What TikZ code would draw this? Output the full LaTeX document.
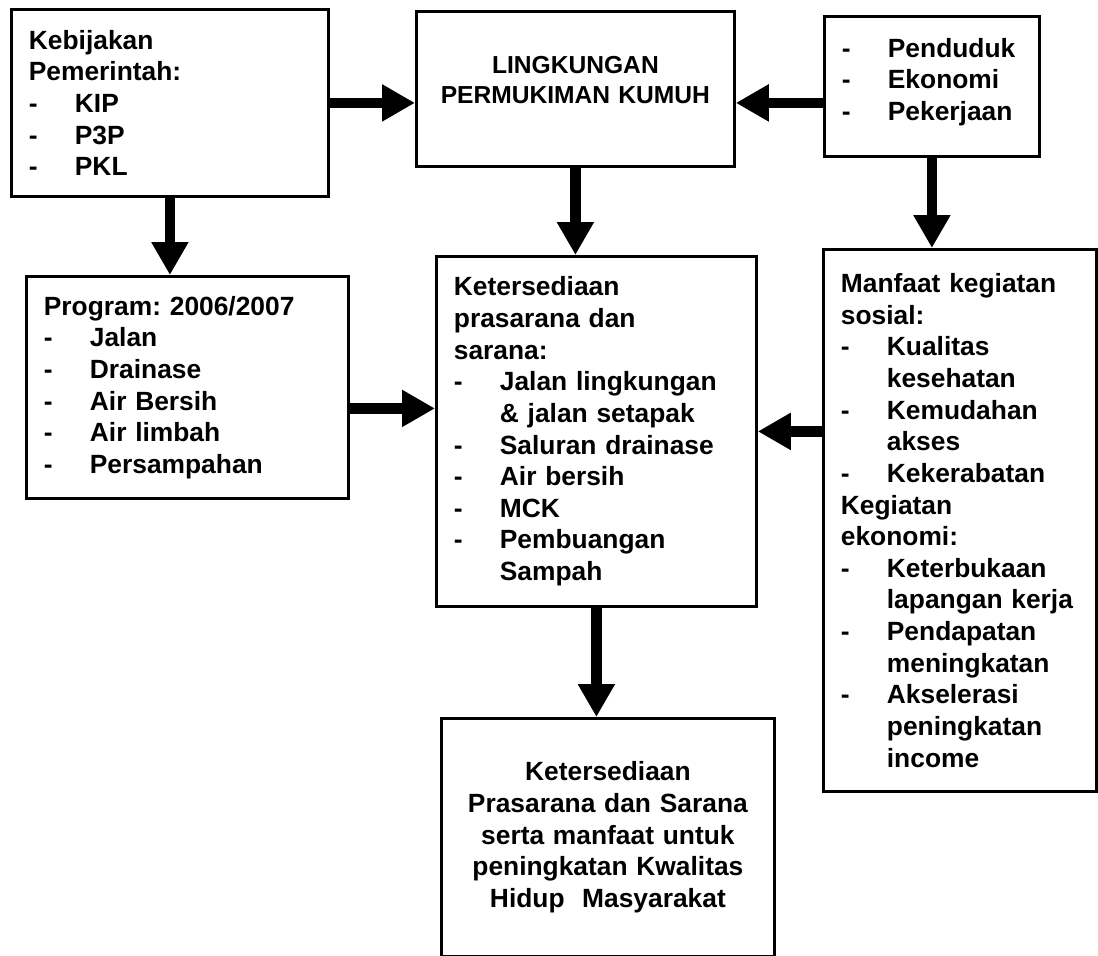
\documentclass[tikz,border=0pt]{standalone}
\usepackage{fontspec}
\setmainfont{Liberation Sans}
\usetikzlibrary{arrows.meta}

% Dash of a list item, and the indent of its next line.
\newcommand{\itm}{\makebox[0.92cm][l]{-}}
\newcommand{\cnt}{\hspace*{0.92cm}}

\begin{document}
\frenchspacing
\begin{tikzpicture}[
        box/.style = {%
            draw, line width = 1.6pt, anchor = north west,
            inner ysep = 0pt, inner xsep = 0.35cm, align = left,
            font = \fontsize{15}{18}\selectfont\bfseries
        },
        arr/.style = {%
            line width = 6pt,
            -{Triangle[length = 0.66cm, width = 0.7cm]}
        }
    ]

        \useasboundingbox (0, 0) rectangle (21.96, -19.1);

        % Top row.
        \node[box, text width = 5.64cm, minimum height = 3.74cm] (kebijakan) at (0.2, -0.16)
            {Kebijakan\\ Pemerintah:\\ \itm KIP\\ \itm P3P\\ \itm PKL};
        \node[box, align = center, text width = 5.66cm, minimum height = 3.1cm,
              font = \fontsize{14}{17}\selectfont\bfseries] (lingkungan) at (8.3, -0.2)
            {LINGKUNGAN\\ PERMUKIMAN KUMUH\\[-0.25cm] \mbox{}};
        \node[box, text width = 3.6cm, minimum height = 2.8cm] (penduduk) at (16.46, -0.3)
            {\itm Penduduk\\ \itm Ekonomi\\ \itm Pekerjaan\\[-0.35cm] \mbox{}};

        % Middle row.
        \node[box, text width = 5.74cm, minimum height = 4.44cm] (program) at (0.5, -5.5)
            {Program: 2006/2007\\ \itm Jalan\\ \itm Drainase\\ \itm Air Bersih\\
             \itm Air limbah\\ \itm Persampahan};
        \node[box, text width = 5.7cm, minimum height = 7.0cm] (ketersediaan) at (8.7, -5.1)
            {Ketersediaan\\ prasarana dan\\ sarana:\\ \itm Jalan lingkungan\\
             \cnt \& jalan setapak\\ \itm Saluran drainase\\ \itm Air bersih\\
             \itm MCK\\ \itm Pembuangan\\ \cnt Sampah};
        \node[box, text width = 4.76cm, minimum height = 10.84cm] (manfaat) at (16.44, -4.96)
            {Manfaat kegiatan\\ sosial:\\ \itm Kualitas\\ \cnt kesehatan\\
             \itm Kemudahan\\ \cnt akses\\ \itm Kekerabatan\\ Kegiatan\\ ekonomi:\\
             \itm Keterbukaan\\ \cnt lapangan kerja\\ \itm Pendapatan\\
             \cnt meningkatan\\ \itm Akselerasi\\ \cnt peningkatan\\ \cnt income};

        % Bottom.
        \node[box, align = center, text width = 5.96cm, minimum height = 4.76cm] (hasil) at (8.8, -14.34)
            {Ketersediaan\\ Prasarana dan Sarana\\ serta manfaat untuk\\
             peningkatan Kwalitas\\ Hidup\ \ Masyarakat};

        % Arrows.
        \coordinate (p4) at ([yshift = -0.42cm]program.east);
        \draw[arr] (kebijakan.east) -- (kebijakan.east -| lingkungan.west);
        \draw[arr] (penduduk.west |- kebijakan.east) -- (lingkungan.east |- kebijakan.east);
        \draw[arr] (kebijakan.south) -- (kebijakan.south |- program.north);
        \draw[arr] (lingkungan.south) -- (lingkungan.south |- ketersediaan.north);
        \draw[arr] (penduduk.south) -- (penduduk.south |- manfaat.north);
        \draw[arr] (p4) -- (p4 -| ketersediaan.west);
        \draw[arr] (manfaat.west |- ketersediaan.east) -- (ketersediaan.east);
        \draw[arr] (ketersediaan.south) -- (ketersediaan.south |- hasil.north);
    \end{tikzpicture}
\end{document}
